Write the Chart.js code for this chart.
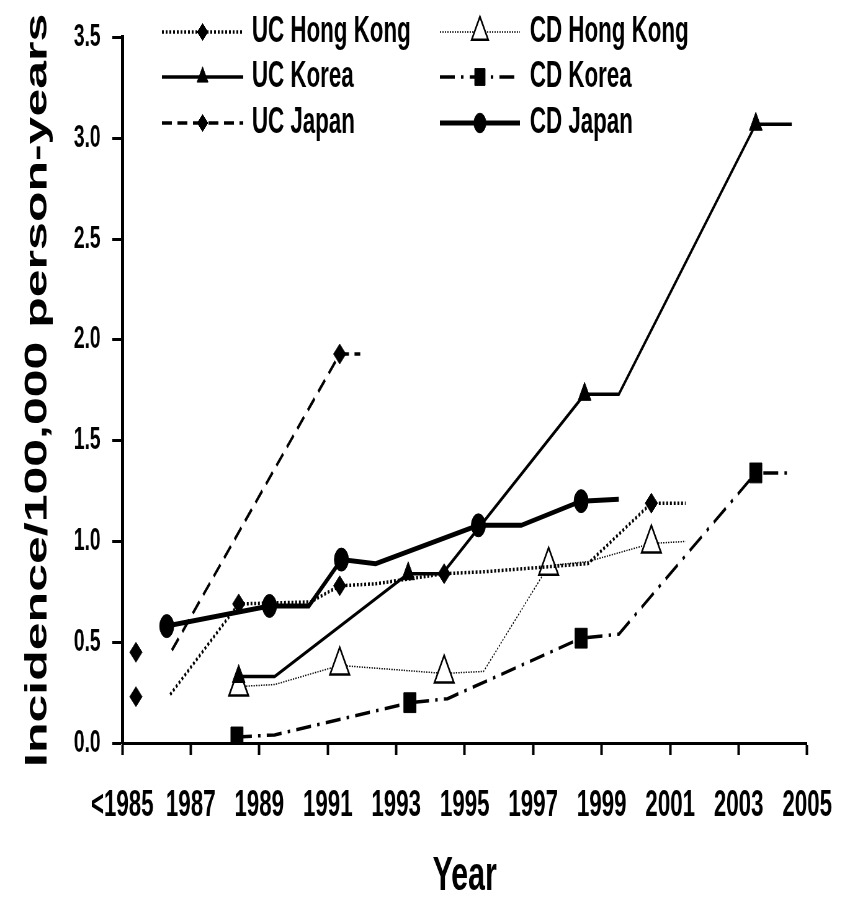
<!DOCTYPE html>
<html>
<head>
<meta charset="utf-8">
<script src="https://cdn.jsdelivr.net/npm/chart.js@4"></script>
<style>
  body { margin: 0; background: #fff; }
</style>
</head>
<body>
<!-- canvas is drawn wide and squeezed to 850px, like the squashed original figure -->
<canvas id="chart" width="1370" height="901" style="display:block;width:850px;height:901px"></canvas>
<script>
// x = year position, y = incidence per 100,000 person-years
// mark = 1 where the series has a symbol, 0 for the corner of the flat step
const xMin = 1985, xMax = 2005, xStep = 2;
const yMax = 3.5, yStep = 0.5;

const ucHongKongX = [1985.4, 1985.9, 1986.4, 1988.4, 1990.5, 1991.35, 1992.4, 1994.4, 1995.6, 1998.6, 2000.45, 2001.45];
const ucHongKongY = [0.23, null, 0.24, 0.69, 0.70, 0.78, 0.79, 0.84, 0.85, 0.89, 1.19, 1.19];
const ucHongKongMark = [1, 0, 0, 1, 0, 1, 0, 1, 0, 0, 1, 0];

const ucKoreaX = [1988.4, 1989.45, 1993.35, 1994.35, 1998.5, 1999.5, 2003.5, 2004.55];
const ucKoreaY = [0.33, 0.33, 0.84, 0.84, 1.73, 1.73, 3.07, 3.07];
const ucKoreaMark = [1, 0, 1, 0, 1, 0, 1, 0];

const ucJapanX = [1985.4, 1985.9, 1986.45, 1991.35, 1991.95];
const ucJapanY = [0.45, null, 0.46, 1.93, 1.93];
const ucJapanMark = [1, 0, 0, 1, 0];

const cdHongKongX = [1988.4, 1989.45, 1991.35, 1994.4, 1995.55, 1997.45, 1998.6, 2000.45, 2001.45];
const cdHongKongY = [0.28, 0.29, 0.385, 0.345, 0.355, 0.88, 0.90, 0.99, 1.00];
const cdHongKongMark = [1, 0, 1, 1, 0, 1, 0, 1, 0];

const cdKoreaX = [1988.35, 1989.45, 1993.4, 1994.5, 1998.4, 1999.5, 2003.5, 2004.5];
const cdKoreaY = [0.03, 0.04, 0.20, 0.22, 0.52, 0.54, 1.34, 1.34];
const cdKoreaMark = [1, 0, 1, 0, 1, 0, 1, 0];

const cdJapanX = [1986.3, 1989.3, 1990.45, 1991.4, 1992.4, 1995.4, 1996.65, 1998.4, 1999.5];
const cdJapanY = [0.58, 0.68, 0.68, 0.91, 0.89, 1.08, 1.08, 1.20, 1.21];
const cdJapanMark = [1, 1, 0, 1, 0, 1, 0, 1, 0];

const FONT = "'Liberation Sans', Arial, sans-serif";

function points(xs, ys) {
  return xs.map((x, i) => ({ x: x, y: ys[i] }));
}

function series(label, xs, ys, marks, style) {
  return {
    label: label,
    data: points(xs, ys),
    borderColor: '#000',
    borderWidth: style.width,
    borderDash: style.dash,
    fill: false,
    tension: 0,
    spanGaps: false,
    pointStyle: style.point,
    pointRadius: marks.map(m => m ? style.radius : 0),
    pointHoverRadius: 0,
    pointBackgroundColor: style.fillColor || '#000',
    pointBorderColor: '#000',
    pointBorderWidth: style.pointBorder || 1
  };
}

const datasets = [
  series('UC Hong Kong', ucHongKongX, ucHongKongY, ucHongKongMark,
    { width: 3.5, dash: [3, 3], point: 'rectRot', radius: 10 }),
  series('UC Korea', ucKoreaX, ucKoreaY, ucKoreaMark,
    { width: 3.5, dash: [], point: 'triangle', radius: 12 }),
  series('UC Japan', ucJapanX, ucJapanY, ucJapanMark,
    { width: 3.5, dash: [16, 9], point: 'rectRot', radius: 10 }),
  series('CD Hong Kong', cdHongKongX, cdHongKongY, cdHongKongMark,
    { width: 1.5, dash: [2, 2], point: 'triangle', radius: 18, fillColor: '#fff', pointBorder: 2.5 }),
  series('CD Korea', cdKoreaX, cdKoreaY, cdKoreaMark,
    { width: 3.5, dash: [24, 10, 4, 10], point: 'rect', radius: 14 }),
  series('CD Japan', cdJapanX, cdJapanY, cdJapanMark,
    { width: 5, dash: [], point: 'circle', radius: 11.5 })
];

// small marker drawing for the legend samples
function drawMarker(ctx, style, x, y, r, fillColor) {
  ctx.beginPath();
  if (style === 'rectRot') {
    ctx.moveTo(x - r, y); ctx.lineTo(x, y - r); ctx.lineTo(x + r, y); ctx.lineTo(x, y + r);
  } else if (style === 'triangle') {
    ctx.moveTo(x, y - r);
    ctx.lineTo(x + r * 0.866, y + r / 2);
    ctx.lineTo(x - r * 0.866, y + r / 2);
  } else if (style === 'rect') {
    const s = r * Math.SQRT1_2;
    ctx.rect(x - s, y - s, 2 * s, 2 * s);
  } else {
    ctx.arc(x, y, r, 0, Math.PI * 2);
  }
  ctx.closePath();
  ctx.fillStyle = fillColor;
  ctx.fill();
  ctx.stroke();
}

const legendColumns = [
  { lineFrom: 261, lineTo: 392, textX: 406 },
  { lineFrom: 709, lineTo: 838, textX: 854 }
];
const legendRows = [32, 77, 123];

const inlineLegend = {
  id: 'inlineLegend',
  afterDatasetsDraw(chart) {
    const ctx = chart.ctx;
    ctx.save();
    chart.data.datasets.forEach((ds, i) => {
      const col = legendColumns[Math.floor(i / 3)];
      const y = legendRows[i % 3];
      ctx.strokeStyle = '#000';
      ctx.lineWidth = ds.borderWidth;
      ctx.setLineDash(ds.borderDash || []);
      ctx.beginPath();
      ctx.moveTo(col.lineFrom, y);
      ctx.lineTo(col.lineTo, y);
      ctx.stroke();
      ctx.setLineDash([]);
      ctx.lineWidth = ds.pointBorderWidth;
      const r = Math.max(...ds.pointRadius) * 0.85;
      drawMarker(ctx, ds.pointStyle, (col.lineFrom + col.lineTo) / 2, y, r, ds.pointBackgroundColor);
      ctx.fillStyle = '#000';
      ctx.font = 'bold 36px ' + FONT;
      ctx.textBaseline = 'middle';
      ctx.textAlign = 'left';
      ctx.fillText(ds.label, col.textX, y);
    });
    ctx.restore();
  }
};

new Chart(document.getElementById('chart'), {
  type: 'line',
  data: { datasets: datasets },
  options: {
    responsive: false,
    animation: false,
    devicePixelRatio: 1,
    layout: { padding: { left: 0, right: 66, top: 24, bottom: 0 } },
    plugins: {
      legend: { display: false },
      tooltip: { enabled: false }
    },
    scales: {
      x: {
        type: 'linear',
        min: xMin,
        max: xMax,
        afterFit: s => { s.height = 158; },
        ticks: {
          stepSize: xStep,
          autoSkip: false,
          maxRotation: 0,
          padding: 29,
          color: '#000',
          font: { family: FONT, size: 36, weight: 'bold' },
          callback: v => (v === xMin ? '<' + v : String(v))
        },
        grid: { drawOnChartArea: false, drawTicks: true, tickLength: 12, tickWidth: 4, tickColor: '#000' },
        border: { color: '#000', width: 3 },
        title: {
          display: true,
          text: 'Year',
          color: '#000',
          font: { family: FONT, size: 49, weight: 'bold', lineHeight: 1 },
          padding: { top: 0, bottom: 0 }
        }
      },
      y: {
        min: 0,
        max: yMax,
        afterFit: s => { s.width = 197; },
        ticks: {
          stepSize: yStep,
          padding: 19,
          color: '#000',
          font: { family: FONT, size: 31, weight: 'bold' },
          callback: v => v.toFixed(1)
        },
        grid: { drawOnChartArea: false, drawTicks: true, tickLength: 16, tickWidth: 3, tickColor: '#000' },
        border: { color: '#000', width: 5 },
        title: {
          display: true,
          text: 'Incidence/100,000 person-years',
          color: '#000',
          font: { family: FONT, size: 50, weight: 'bold', lineHeight: 1 },
          padding: { top: 36, bottom: 0 }
        }
      }
    }
  },
  plugins: [inlineLegend]
});
</script>
</body>
</html>
